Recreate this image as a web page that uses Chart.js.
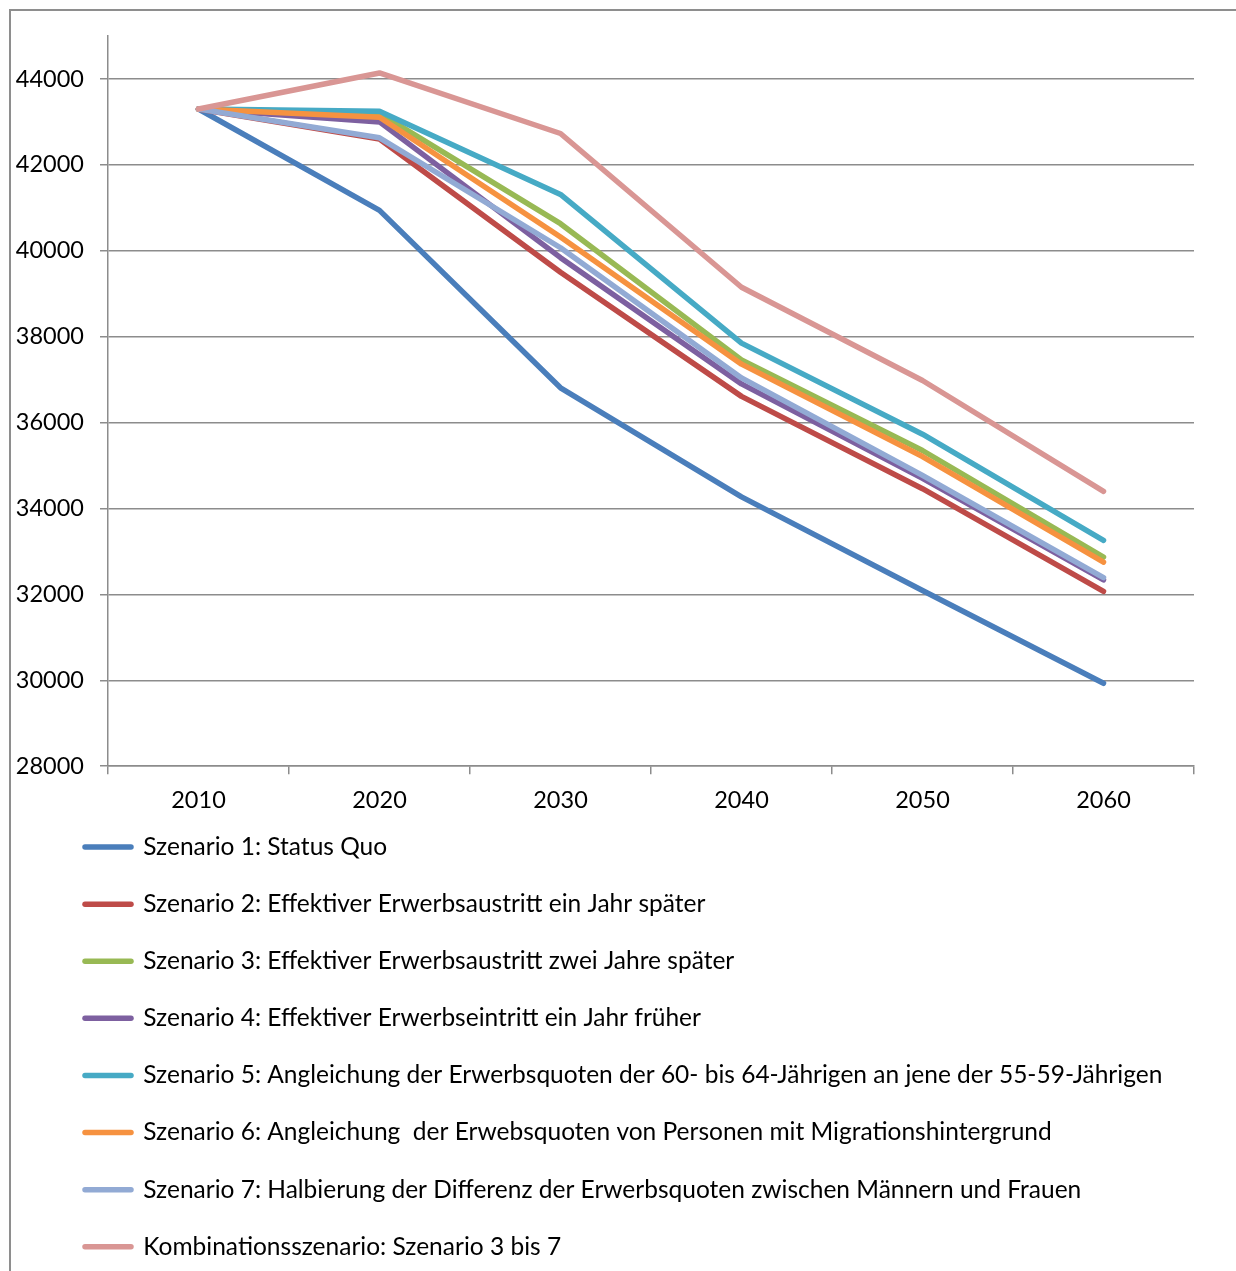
<!DOCTYPE html>
<html>
<head>
<meta charset="utf-8">
<script src="https://cdn.jsdelivr.net/npm/chart.js@4/dist/chart.umd.min.js"></script>
<style>
  html, body { margin: 0; padding: 0; overflow: hidden; background: #fff; }
  #frame { position: absolute; left: 9px; top: 9px; width: 1300px; height: 1300px; border: 2px solid #8e8e8e; }
  #wrap { position: absolute; left: 0; top: 0; width: 1236px; height: 1282px; }
</style>
</head>
<body>
<div id="frame"></div>
<div id="wrap"><canvas id="chart" width="1236" height="1282"></canvas></div>
<script>
const years = ['2010', '2020', '2030', '2040', '2050', '2060'];
const yTicks = [28000, 30000, 32000, 34000, 36000, 38000, 40000, 42000, 44000];

const szenario1 = [43300, 40940, 36810, 34270, 32090, 29930];
const szenario2 = [43300, 42600, 39500, 36610, 34460, 32070];
const szenario3 = [43300, 43200, 40630, 37460, 35350, 32870];
const szenario4 = [43300, 43000, 39840, 36900, 34700, 32340];
const szenario5 = [43300, 43250, 41310, 37850, 35730, 33260];
const szenario6 = [43300, 43110, 40320, 37360, 35210, 32750];
const szenario7 = [43300, 42630, 40070, 37040, 34770, 32390];
const kombination = [43300, 44140, 42730, 39150, 36980, 34400];

const labels = [
  'Szenario 1: Status Quo',
  'Szenario 2: Effektiver Erwerbsaustritt ein Jahr später',
  'Szenario 3: Effektiver Erwerbsaustritt zwei Jahre später',
  'Szenario 4: Effektiver Erwerbseintritt ein Jahr früher',
  'Szenario 5: Angleichung der Erwerbsquoten der 60- bis 64-Jährigen an jene der 55-59-Jährigen',
  'Szenario 6: Angleichung  der Erwebsquoten von Personen mit Migrationshintergrund',
  'Szenario 7: Halbierung der Differenz der Erwerbsquoten zwischen Männern und Frauen',
  'Kombinationsszenario: Szenario 3 bis 7',
];
const series = [szenario1, szenario2, szenario3, szenario4, szenario5, szenario6, szenario7, kombination];
const colors = ['#4a7ebb', '#be4b48', '#98b954', '#7d60a0', '#46aac5', '#f69240', '#92aad4', '#d99694'];

const gridColor = '#8c8c8c';
const tickFont = { family: 'Lato', size: 23.5 };
const legendFont = { family: 'Lato', size: 24.5 };

// later series are drawn on top, like in the original
const datasets = series.map((data, i) => ({
  label: labels[i],
  data: data,
  borderColor: colors[i],
  backgroundColor: colors[i],
  borderWidth: 5.5,
  borderCapStyle: 'round',
  borderJoinStyle: 'round',
  pointRadius: 0,
  tension: 0,
  order: series.length - i,
}));

// pad label text so every legend entry gets its own row
const padText = '\u00A0'.repeat(110);

// move the legend block to where the original has it
const legendShift = {
  id: 'legendShift',
  afterLayout(chart) {
    const legend = chart.legend;
    const dx = 52.4 - legend.left;
    const dy = 802.2 - legend.top;
    legend.left += dx;
    legend.right += dx;
    legend.top += dy;
    legend.bottom += dy;
  },
};

new Chart(document.getElementById('chart'), {
  type: 'line',
  data: { labels: years, datasets: datasets },
  plugins: [legendShift],
  options: {
    responsive: false,
    animation: false,
    devicePixelRatio: 1,
    layout: { padding: { left: 10, right: 42, top: 36, bottom: 0 } },
    plugins: {
      tooltip: { enabled: false },
      legend: {
        position: 'bottom',
        align: 'start',
        labels: {
          font: legendFont,
          color: '#000',
          padding: 32.6,
          usePointStyle: true,
          pointStyle: 'line',
          pointStyleWidth: 46,
          sort: (a, b) => a.datasetIndex - b.datasetIndex,
          generateLabels: chart => {
            const items = Chart.defaults.plugins.legend.labels.generateLabels(chart);
            items.forEach(item => {
              item.text = item.text + padText;
              item.lineCap = 'round';
              item.lineWidth = 5.5;
              item.pointStyle = 'line';
            });
            return items;
          },
        },
      },
    },
    scales: {
      x: {
        offset: true,
        grid: { offset: true, drawOnChartArea: false, color: gridColor, lineWidth: 1.5, tickLength: 8 },
        border: { color: gridColor, width: 1.5 },
        ticks: { font: tickFont, color: '#000', padding: 12, maxRotation: 0 },
        afterFit: scale => { scale.height = 49; },
      },
      y: {
        min: 28000,
        max: 45000,
        bounds: 'data',
        grid: { color: gridColor, lineWidth: 1.5, tickLength: 8 },
        border: { color: gridColor, width: 1.5 },
        ticks: { font: tickFont, color: '#000', padding: 16, callback: value => String(value) },
        afterBuildTicks: scale => { scale.ticks = yTicks.map(v => ({ value: v })); },
        afterFit: scale => { scale.width = 98; },
      },
    },
  },
});
</script>
</body>
</html>
